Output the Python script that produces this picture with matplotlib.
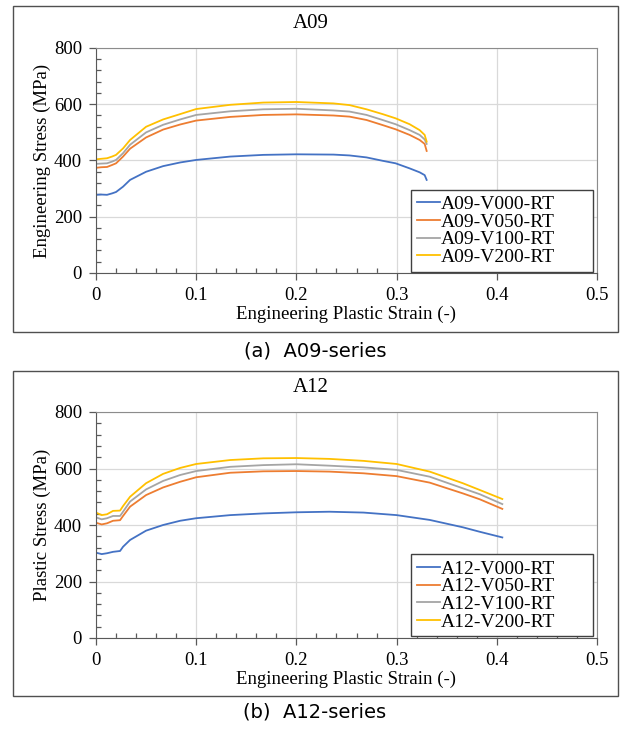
import numpy as np
import matplotlib
matplotlib.use("Agg")
import matplotlib.pyplot as plt
from matplotlib.patches import Rectangle
from matplotlib.ticker import MultipleLocator, FuncFormatter

plt.rcParams['font.family'] = ['Liberation Serif', 'DejaVu Serif']

# A09 series
a09_strain = [0, 0.005, 0.011, 0.016, 0.02, 0.027, 0.034, 0.05, 0.067, 0.084, 0.1,
              0.134, 0.167, 0.2, 0.237, 0.253, 0.27, 0.286, 0.299, 0.313, 0.323,
              0.328, 0.33]
a09_v000 = [278, 279, 278, 283, 288, 307, 331, 360, 380, 393, 402,
            414, 420, 422, 421, 418, 411, 399, 390, 372, 358, 348, 331]
a09_v050 = [374, 376, 377, 384, 390, 414, 442, 482, 510, 528, 542,
            555, 562, 564, 560, 556, 544, 526, 511, 491, 473, 459, 434]
a09_v100 = [388, 389, 390, 396, 402, 426, 456, 500, 527, 546, 562,
            575, 582, 584, 578, 574, 562, 544, 529, 508, 491, 475, 459]
a09_v200 = [404, 406, 408, 414, 420, 443, 473, 520, 546, 565, 583,
            598, 606, 608, 603, 597, 582, 565, 550, 529, 508, 491, 467]

# A12 series
a12_strain = [0, 0.0057, 0.011, 0.017, 0.024, 0.027, 0.034, 0.05, 0.067, 0.084, 0.1,
              0.134, 0.167, 0.2, 0.233, 0.267, 0.3, 0.333, 0.366, 0.383, 0.4055]
a12_v000 = [302, 297, 300, 305, 308, 323, 347, 380, 400, 415, 424,
            435, 441, 445, 447, 444, 435, 418, 392, 376, 356]
a12_v050 = [408, 402, 406, 415, 417, 432, 465, 506, 533, 553, 569,
            585, 590, 591, 589, 583, 573, 550, 512, 491, 457]
a12_v100 = [427, 420, 424, 432, 432, 447, 483, 526, 556, 577, 591,
            606, 612, 615, 610, 604, 595, 571, 530, 509, 474]
a12_v200 = [444, 435, 438, 450, 451, 467, 500, 548, 581, 602, 616,
            630, 636, 637, 634, 627, 616, 589, 548, 524, 492]

colors = ['#4472C4', '#ED7D31', '#A5A5A5', '#FFC000']
suffixes = ['V000-RT', 'V050-RT', 'V100-RT', 'V200-RT']

panels = [
    dict(name='A09', strain=a09_strain, series=[a09_v000, a09_v050, a09_v100, a09_v200],
         ylabel='Engineering Stress (MPa)', caption='(a)  A09-series',
         ax_rect=[96/621, 1-273/729, 501/621, 225/729], box=(6, 332), title_y=24, cap_y=351),
    dict(name='A12', strain=a12_strain, series=[a12_v000, a12_v050, a12_v100, a12_v200],
         ylabel='Plastic Stress (MPa)', caption='(b)  A12-series',
         ax_rect=[96/621, 1-638/729, 501/621, 226/729], box=(371, 696), title_y=388, cap_y=712),
]

fig = plt.figure(figsize=(6.21, 7.29), dpi=100)

for p in panels:
    top, bot = p['box']
    fig.patches.append(Rectangle((13/621, 1-bot/729), 605/621, (bot-top)/729,
                                 transform=fig.transFigure, fill=False,
                                 edgecolor='#505050', linewidth=1.0))
    ax = fig.add_axes(p['ax_rect'])
    for vals, c, s in zip(p['series'], colors, suffixes):
        ax.plot(p['strain'], vals, color=c, linewidth=1.3, label=f"{p['name']}-{s}")

    ax.set_xlim(0, 0.5)
    ax.set_ylim(0, 800)
    ax.xaxis.set_major_locator(MultipleLocator(0.1))
    ax.xaxis.set_minor_locator(MultipleLocator(0.02))
    ax.yaxis.set_major_locator(MultipleLocator(200))
    ax.yaxis.set_minor_locator(MultipleLocator(40))
    ax.xaxis.set_major_formatter(FuncFormatter(lambda v, _: f'{round(v, 2):g}'))
    ax.grid(True, which='major', color='#D9D9D9', linewidth=0.9)
    ax.set_axisbelow(True)
    ax.tick_params(which='major', direction='out', length=5, width=0.9,
                   color='#595959', labelsize=13.5, pad=5)
    ax.tick_params(which='minor', direction='in', length=3.5, width=0.9, color='#595959')
    for side in ['left', 'bottom']:
        ax.spines[side].set_color('#595959')
    for side in ['top', 'right']:
        ax.spines[side].set_color('#8c8c8c')

    ax.set_xlabel('Engineering Plastic Strain (-)', fontsize=13.5, labelpad=1)
    ax.set_ylabel(p['ylabel'], fontsize=13.5, labelpad=2)
    fig.text(0.5, 1 - p['title_y']/729, p['name'], ha='center', va='center', fontsize=15)

    leg = ax.legend(loc='upper left', bbox_to_anchor=(315/501, 81/225, 182/501, 0.01),
                    mode='expand', borderaxespad=0, fontsize=14, frameon=True,
                    fancybox=False, edgecolor='#404040', framealpha=1,
                    handlelength=1.2, handletextpad=0.05, labelspacing=0.0,
                    borderpad=0.3)
    leg.get_frame().set_linewidth(1.0)

    fig.text(315/621, 1 - p['cap_y']/729, p['caption'], ha='center', va='center',
             fontsize=14, family=['DejaVu Sans'])

fig.savefig('out.png', dpi=100)
